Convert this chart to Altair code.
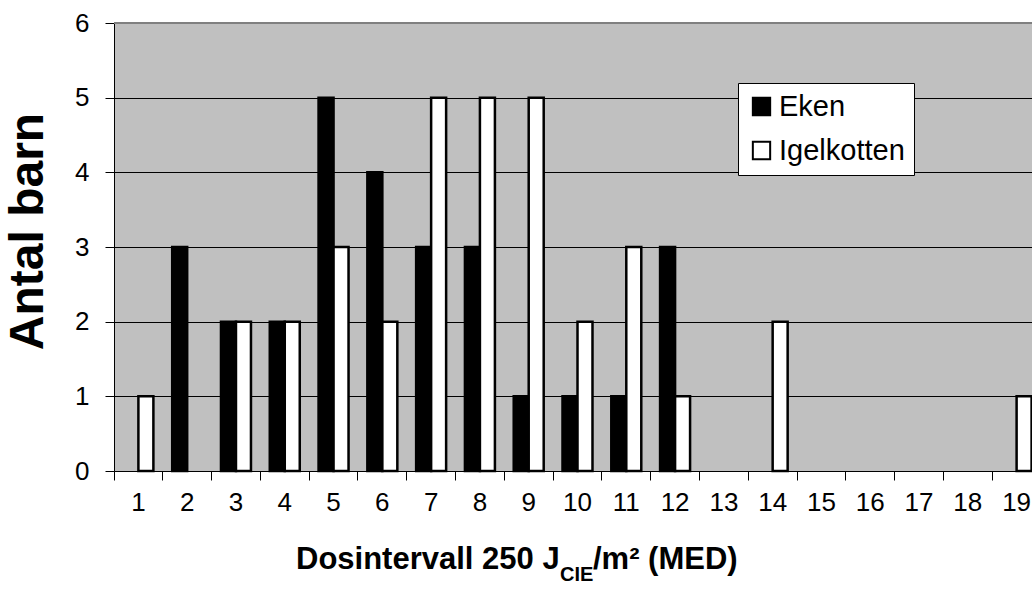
import altair as alt
import pandas as pd

categories = [str(i) for i in range(1, 20)]
eken = [0, 3, 2, 2, 5, 4, 3, 3, 1, 1, 1, 3, 0, 0, 0, 0, 0, 0, 0]
igelkotten = [1, 0, 2, 2, 3, 2, 5, 5, 5, 2, 3, 1, 0, 2, 0, 0, 0, 0, 1]
series = ["Eken", "Igelkotten"]
colors = ["#000000", "#ffffff"]
y_ticks = [0, 1, 2, 3, 4, 5, 6]

rows = []
for c, e, i in zip(categories, eken, igelkotten):
    rows.append({"Dos": c, "Skola": "Eken", "Antal": e})
    rows.append({"Dos": c, "Skola": "Igelkotten", "Antal": i})
df = pd.DataFrame(rows)
df = df[df["Antal"] > 0]

FONT = "Liberation Sans"
W, H = 918, 448

bars = alt.Chart(df).mark_bar(stroke="black", strokeWidth=2.5).encode(
    x=alt.X(
        "Dos:N",
        sort=categories,
        scale=alt.Scale(domain=categories, range=[0, 927], paddingInner=0, paddingOuter=0),
        axis=alt.Axis(
            title=None, bandPosition=0, labelOffset=0, tickSize=9, labelPadding=9,
            labelFontSize=26, labelFont=FONT, labelColor="black", labelAngle=0,
            tickColor="black", domainColor="black", labelBound=False, labelOverlap=False,
        ),
    ),
    xOffset=alt.XOffset("Skola:N", scale=alt.Scale(domain=series, paddingInner=0, paddingOuter=0.627)),
    y=alt.Y(
        "Antal:Q",
        scale=alt.Scale(domain=[0, 6]),
        axis=alt.Axis(
            values=y_ticks, format="d", title="Antal barn", titleFont=FONT, titleFontSize=48,
            titleFontWeight="bold", titleColor="black", titleX=-86, titleY=208,
            titleAngle=270, titleAlign="center", titleBaseline="middle",
            tickSize=9, labelPadding=16, labelFontSize=26, labelFont=FONT,
            labelColor="black", tickColor="black", domainColor="black",
            grid=True, gridColor="#000000", gridWidth=1,
        ),
    ),
    color=alt.Color(
        "Skola:N",
        scale=alt.Scale(domain=series, range=colors),
        legend=alt.Legend(
            title=None, orient="none", legendX=624, legendY=60, direction="vertical",
            fillColor="white", strokeColor="black", padding=9,
            symbolType="square", symbolSize=300, symbolStrokeColor="black",
            symbolStrokeWidth=2, labelFontSize=29, labelFont=FONT, labelColor="black",
            rowPadding=14, labelOffset=3, labelExpr="datum.label + '\u00a0'",
        ),
    ),
)

top_rule = alt.Chart(pd.DataFrame({"k": [0]})).mark_rule(color="#808080", strokeWidth=2).encode(
    y=alt.datum(6)
)

one = pd.DataFrame({"k": [0]})
t1 = alt.Chart(one).mark_text(
    text="Dosintervall 250 J", align="left", baseline="alphabetic",
    font=FONT, fontSize=31, fontWeight="bold", color="black",
).encode(x=alt.value(182), y=alt.value(546))
t2 = alt.Chart(one).mark_text(
    text="CIE", align="left", baseline="alphabetic",
    font=FONT, fontSize=20, fontWeight="bold", color="black",
).encode(x=alt.value(446), y=alt.value(558))
t3 = alt.Chart(one).mark_text(
    text="/m² (MED)", align="left", baseline="alphabetic",
    font=FONT, fontSize=31, fontWeight="bold", color="black",
).encode(x=alt.value(479), y=alt.value(546))

chart = alt.layer(bars, top_rule, t1, t2, t3).properties(
    width=W, height=H,
    autosize=alt.AutoSizeParams(type="none"),
    padding={"left": 114, "top": 23, "right": 0, "bottom": 122},
).configure_view(fill="#c0c0c0", strokeWidth=0)

chart.save("out.html", embed_options={"renderer": "svg", "actions": False})
